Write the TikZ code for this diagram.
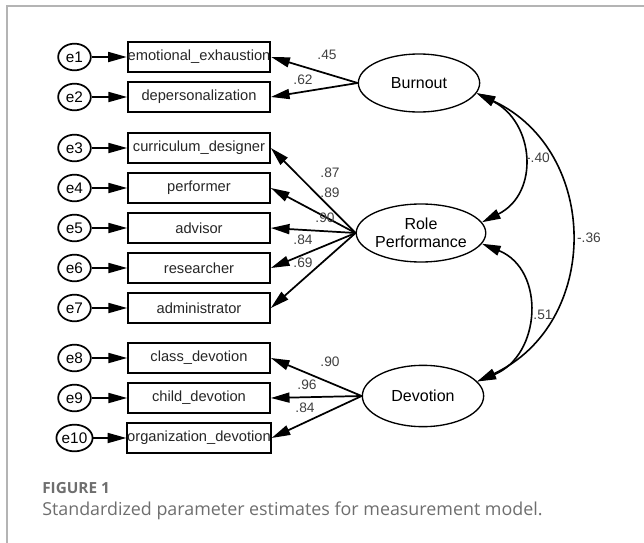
\documentclass[tikz,border=0pt]{standalone}
\usepackage{fontspec}
\setmainfont{Liberation Sans}
\newfontfamily\capfont{Open Sans}
\usepackage{tikz}
\usetikzlibrary{arrows.meta,shapes.geometric}
\usepackage{xcolor}
\definecolor{estgray}{HTML}{404040}
\definecolor{capgray}{HTML}{6E6E6E}
\definecolor{framegray}{HTML}{B4B4B4}

\begin{document}
\begin{tikzpicture}[x=0.75pt,y=-0.75pt,
  errvar/.style={ellipse,draw,line width=1.3pt,minimum width=24.5pt,minimum height=20pt,inner sep=0pt,font=\fontsize{11.5}{12}\selectfont},
  obsvar/.style={rectangle,draw,line width=1.3pt,minimum width=106.5pt,minimum height=22.5pt,inner sep=0pt,font=\fontsize{11}{12}\selectfont,text=black!85},
  latvar/.style={ellipse,draw,line width=1pt,minimum width=91pt,minimum height=43.5pt,inner sep=0pt,align=center,font=\fontsize{12}{13.5}\selectfont},
  load/.style={-{Triangle[length=14pt,width=7.5pt]},line width=1.3pt},
  cov/.style={{Triangle[length=14pt,width=7.5pt]}-{Triangle[length=14pt,width=7.5pt]},line width=1.2pt},
  est/.style={font=\fontsize{10.3}{11}\selectfont,text=estgray,inner sep=0pt}]
\useasboundingbox (0,0) rectangle (644,543);
\draw[framegray,line width=1.2pt] (644,6) -- (7,6) -- (7,543);

% indicators with their error terms
\foreach \i/\y/\name in {1/57/emotional\_exhaustion, 2/97/depersonalization,
    3/148/curriculum\_designer, 4/188/performer, 5/228/advisor, 6/268/researcher,
    7/308/administrator, 8/358/class\_devotion, 9/398/child\_devotion,
    10/438/organization\_devotion} {
    \node[errvar] (e\i) at (74.5,\y) {e\i};
    \node[obsvar] (v\i) at (199,\y) {\name};
    \draw[load] (e\i) -- (v\i);
}

% latent factors
\node[latvar] (burnout) at (419,83) {Burnout};
\node[latvar] (role) at (421,233) {Role\\Performance};
\node[latvar,minimum height=46pt] (devotion) at (423,396) {Devotion};

\foreach \i in {1,2} \draw[load] (burnout.west) -- (v\i.east);
\foreach \i in {3,...,7} \draw[load] (role.west) -- (v\i.east);
\foreach \i in {8,9,10} \draw[load] (devotion.west) -- (v\i.east);

% covariances
\draw[cov] (burnout.-10) .. controls +(58,29) and +(58,-29) .. (role.10);
\draw[cov] (burnout.-10) .. controls +(124,58) and +(124,-58) .. (devotion.15);
\draw[cov] (role.-10) .. controls +(64,26) and +(64,-26) .. (devotion.15);

% estimates
\foreach \n/\x/\y/\t in {a/327/55/.45, b/303/80/.62, c/330/173/.87, d/330/193/.89,
    e/325/218/.90, f/303/240/.84, g/303/263/.69, h/330/362/.90, i/307/385/.96,
    j/305/408/.84, k/538/158/-.40, l/589/238/-.36, m/543/315/.51}
    \node[est] (est\n) at (\x,\y) {\t};

% caption
\node[anchor=west,inner sep=0pt,text=capgray,font=\capfont\bfseries\fontsize{11.5}{13}\selectfont] (figno) at (42,488) {FIGURE 1};
\node[anchor=west,inner sep=0pt,text=capgray,font=\capfont\fontsize{13.4}{16}\selectfont] (figcap) at (42,511) {Standardized parameter estimates for measurement model.};
\end{tikzpicture}
\end{document}
